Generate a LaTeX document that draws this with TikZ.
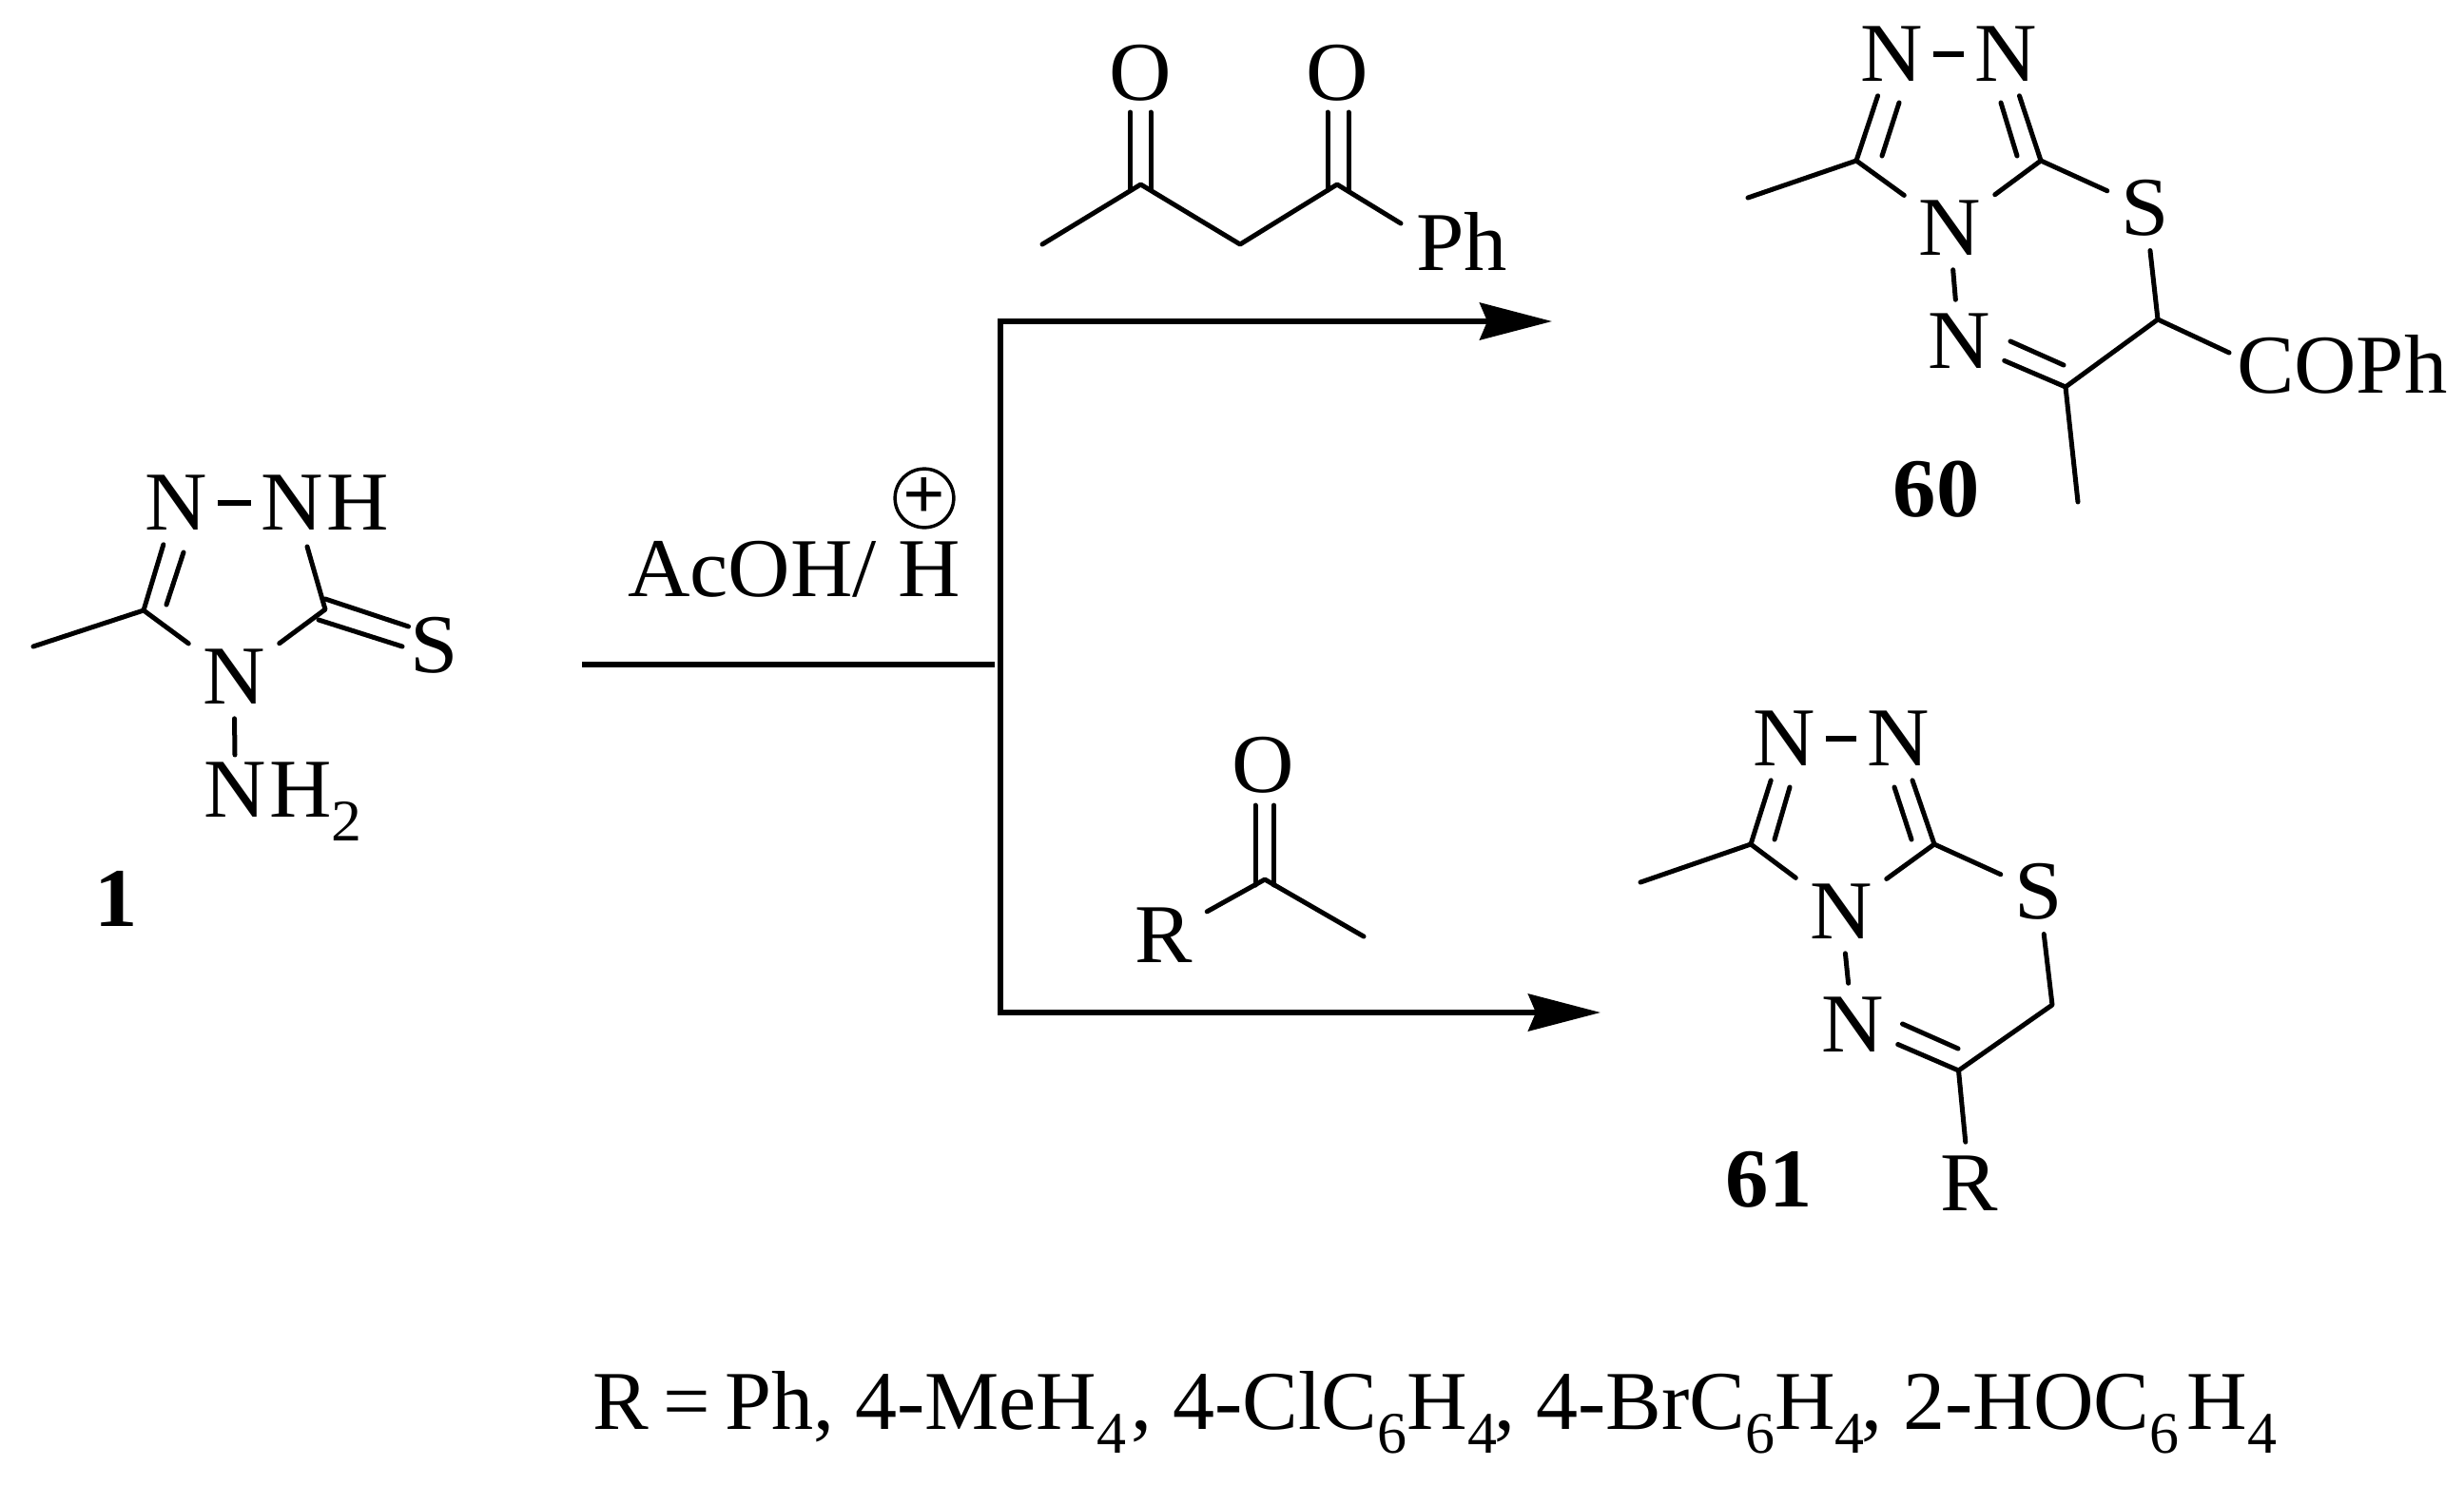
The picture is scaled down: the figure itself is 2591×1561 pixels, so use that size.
\documentclass[tikz,border=0pt]{standalone}
\usepackage{fontspec}
\setmainfont[FakeStretch=1.03]{Liberation Serif}
\newfontfamily\plainserif{Liberation Serif}
\usetikzlibrary{arrows.meta}
\newcommand\lowsub[1]{\raisebox{-25pt}{\fontsize{62}{62}\selectfont #1}}
\tikzset{
  x=1pt,y=-1pt,
  every node/.style={font=\fontsize{88}{90}\selectfont,outer sep=0pt},
  atom/.style={inner sep=15pt},
  txt/.style={inner sep=0pt,anchor=base west},
  cmpd/.style={inner sep=0pt,anchor=base,font=\fontsize{88}{90}\selectfont\bfseries},
  bond/.style={line width=5pt,line cap=round,line join=round,black},
  hyph/.style={line width=6.5pt,black,shorten <=-4pt,shorten >=-4pt},
  rxn/.style={line width=5.5pt,black},
  rxntips/.style={{Stealth[length=76pt,width=39pt,inset=8pt]}-{Stealth[length=76pt,width=39pt,inset=8pt]}}
}
\begin{document}
\begin{tikzpicture}
\useasboundingbox (0,0) rectangle (2591,1561);
\fill[white] (0,0) rectangle (2591,1561);

% ---------- compound 1
\node[atom] (aN2) at (185,529) {N};
\node[atom] (aNH) at (342,529) {N\kern4pt H};
\node[atom] (aN4) at (246,712) {N};
\node[atom] (aS) at (457,679) {S};
\node[txt] (aNHtwo) at (214,859) {N\kern4pt H\lowsub{2}};
\node[cmpd] (lab1) at (122,974) {1};
\coordinate (aMe) at (35,680);
\coordinate (aC3) at (151,642);
\coordinate (aC5) at (342,641);
\coordinate (aI1) at (175,636);
\coordinate (aI2) at (193,581);
\coordinate (aNHb) at (323,575);
\coordinate (aS1) at (342,630);
\coordinate (aS2) at (429.5,659);
\coordinate (aS3) at (335,652);
\coordinate (aS4) at (423,680);
\coordinate (aNb) at (247,794);
\draw[bond] (aMe) -- (aC3) -- (aN4);
\draw[bond] (aC3) -- (aN2);
\draw[bond] (aI1) -- (aI2);
\draw[bond] (aN4) -- (aC5) -- (aNHb);
\draw[bond] (aS1) -- (aS2);
\draw[bond] (aS3) -- (aS4);
\draw[bond] (aN4) -- (aNb);
\draw[hyph] (aN2) -- (aNH);

% ---------- reaction scheme
\coordinate (fStart) at (612,699);
\coordinate (fEnd) at (1046,699);
\coordinate (vTop) at (1052,338);
\coordinate (vBot) at (1052,1065);
\coordinate (tipTop) at (1632,338);
\coordinate (tipBot) at (1683,1065);
\draw[rxn] (fStart) -- (fEnd);
\draw[rxn,rxntips] (tipTop) -- (vTop) -- (vBot) -- (tipBot);
\node[txt] (acoh) at (660,627) {AcOH/ H};
\node[circle,draw,line width=3.5pt,inner sep=0pt,minimum size=60pt,font=\fontsize{76}{76}\selectfont\bfseries] (plus) at (972,524) {+};

% ---------- diketone
\node[atom] (bO1) at (1199,77) {O};
\node[atom] (bO2) at (1406,77) {O};
\node[txt] (bPh) at (1489,284) {Ph};
\coordinate (bMe) at (1096,257);
\coordinate (bC1) at (1199.5,194);
\coordinate (bCH2) at (1304,257);
\coordinate (bC2) at (1406,194);
\coordinate (bPhb) at (1473,235);
\coordinate (bA1) at (1188.5,118);
\coordinate (bA2) at (1188.5,200);
\coordinate (bA3) at (1210,118);
\coordinate (bA4) at (1210,200);
\coordinate (bB1) at (1396,118);
\coordinate (bB2) at (1396,200);
\coordinate (bB3) at (1418,118);
\coordinate (bB4) at (1418,200);
\draw[bond] (bMe) -- (bC1) -- (bCH2) -- (bC2) -- (bPhb);
\draw[bond] (bA1) -- (bA2);
\draw[bond] (bA3) -- (bA4);
\draw[bond] (bB1) -- (bB2);
\draw[bond] (bB3) -- (bB4);

% ---------- compound 60
\node[atom] (cN1) at (1989,57) {N};
\node[atom] (cN2) at (2109,57) {N};
\node[atom] (cN4) at (2050,240) {N};
\node[atom] (cS) at (2256,219) {S};
\node[atom] (cN5) at (2060,359) {N};
\node[txt] (cCOPh) at (2352,413.6) {COPh};
\node[cmpd] (lab60) at (2036,543) {60};
\coordinate (cMe) at (1838,208);
\coordinate (cC3) at (1952,169);
\coordinate (cC9) at (2146,169);
\coordinate (cCH) at (2269,336);
\coordinate (cCN) at (2172,407);
\coordinate (cMe2) at (2185,528);
\coordinate (cCOb) at (2344,371);
\coordinate (cI1) at (1979,164);
\coordinate (cI2) at (1997,108);
\coordinate (cI3) at (2121,164);
\coordinate (cI4) at (2104,108);
\coordinate (cI5) at (2170,384);
\coordinate (cI6) at (2114,359);
\draw[bond] (cMe) -- (cC3) -- (cN4) -- (cC9) -- (cS);
\draw[bond] (cC3) -- (cN1);
\draw[bond] (cC9) -- (cN2);
\draw[bond] (cI1) -- (cI2);
\draw[bond] (cI3) -- (cI4);
\draw[bond] (cS) -- (cCH) -- (cCN) -- (cN5);
\draw[bond] (cI5) -- (cI6);
\draw[bond] (cN4) -- (cN5);
\draw[bond] (cCH) -- (cCOb);
\draw[bond] (cCN) -- (cMe2);
\draw[hyph] (cN1) -- (cN2);

% ---------- methyl ketone
\node[atom] (dO) at (1328,805) {O};
\node[atom] (dR) at (1224,984) {R};
\coordinate (dC) at (1330,925);
\coordinate (dMe) at (1434,985);
\coordinate (dA1) at (1320,847);
\coordinate (dA2) at (1320,931);
\coordinate (dA3) at (1339.5,847);
\coordinate (dA4) at (1339.5,931);
\draw[bond] (dR) -- (dC) -- (dMe);
\draw[bond] (dA1) -- (dA2);
\draw[bond] (dA3) -- (dA4);

% ---------- compound 61
\node[atom] (eN1) at (1876,777) {N};
\node[atom] (eN2) at (1996,777) {N};
\node[atom] (eN4) at (1936,959) {N};
\node[atom] (eS) at (2144,938) {S};
\node[atom] (eN5) at (1948,1078) {N};
\node[atom] (eR) at (2071,1245) {R};
\node[cmpd] (lab61) at (1860,1269) {61};
\coordinate (eMe) at (1725,928);
\coordinate (eC3) at (1841,888);
\coordinate (eC9) at (2034,888);
\coordinate (eCH) at (2158,1057);
\coordinate (eCN) at (2059.5,1126);
\coordinate (eI1) at (1866,883);
\coordinate (eI2) at (1882,828);
\coordinate (eI3) at (2010,883);
\coordinate (eI4) at (1992,828);
\coordinate (eI5) at (2059,1103);
\coordinate (eI6) at (2000.5,1077);
\draw[bond] (eMe) -- (eC3) -- (eN4) -- (eC9) -- (eS);
\draw[bond] (eC3) -- (eN1);
\draw[bond] (eC9) -- (eN2);
\draw[bond] (eI1) -- (eI2);
\draw[bond] (eI3) -- (eI4);
\draw[bond] (eS) -- (eCH) -- (eCN) -- (eN5);
\draw[bond] (eI5) -- (eI6);
\draw[bond] (eN4) -- (eN5);
\draw[bond] (eCN) -- (eR);
\draw[hyph] (eN1) -- (eN2);

% ---------- legend
\node[txt] (legend) at (623,1503) {\plainserif R\kern15.5pt=\kern15.5pt Ph, 4-MeH\lowsub{4}\kern5pt, 4-ClC\lowsub{6}H\lowsub{4}\kern-3pt, 4-BrC\lowsub{6}H\lowsub{4}\kern-3pt, 2-HOC\lowsub{6}\kern8pt H\lowsub{4}};
\end{tikzpicture}
\end{document}
